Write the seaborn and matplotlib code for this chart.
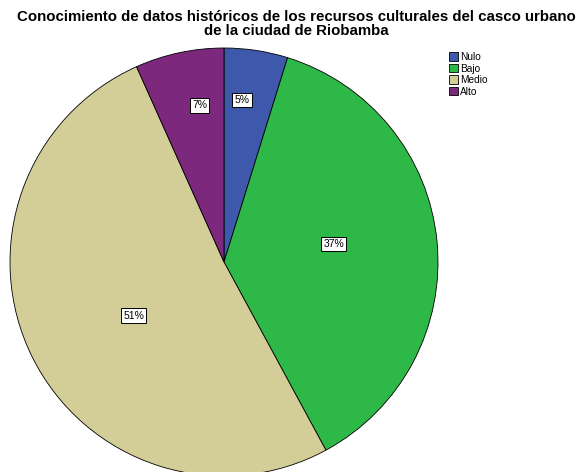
import numpy as np
import matplotlib
matplotlib.use("Agg")
import matplotlib.pyplot as plt
import seaborn as sns
from matplotlib.patches import Patch

sns.set_theme(style="white")
plt.rcParams['font.family'] = ['Liberation Sans', 'DejaVu Sans']
plt.rcParams['text.color'] = 'black'

categories = ["Nulo", "Bajo", "Medio", "Alto"]
values = [4.8, 37.3, 51.2, 6.7]
pct_labels = ["5%", "37%", "51%", "7%"]
colors = ["#3E58AC", "#2EB848", "#D3CE97", "#7C287D"]
label_r = [0.76, 0.52, 0.49, 0.74]
label_dang = [2.3, 3.8, 4.4, -3.3]

W, H = 583, 472
fig = plt.figure(figsize=(W / 100, H / 100), dpi=100)
cx, cy, R = 224, 262, 214
ax = fig.add_axes([(cx - R) / W, (H - cy - R) / H, 2 * R / W, 2 * R / H])
wedges, _ = ax.pie(values, colors=colors, startangle=90, counterclock=False,
                   radius=1.0, wedgeprops=dict(edgecolor="black", linewidth=0.6))
for w, lab, r, da in zip(wedges, pct_labels, label_r, label_dang):
    ang = np.deg2rad((w.theta1 + w.theta2) / 2 + da)
    ax.text(r * np.cos(ang), r * np.sin(ang), lab, ha="center", va="center", fontsize=7.5,
            color="black",
            bbox=dict(boxstyle="square,pad=0.2", facecolor="white", edgecolor="black", linewidth=0.7))
ax.set_xlim(-1, 1)
ax.set_ylim(-1, 1)
ax.set_aspect("equal")
ax.axis("off")

fig.text(0.508, 1 - 24 / H, "Conocimiento de datos históricos de los recursos culturales del casco urbano\nde la ciudad de Riobamba",
         ha="center", va="center", fontsize=10.8, fontweight="bold", linespacing=0.95, color="black")

handles = [Patch(facecolor=c, edgecolor="black", linewidth=0.6) for c in colors]
leg = fig.legend(handles, categories, loc="upper left", bbox_to_anchor=(442 / W, 1 - 45 / H),
                 frameon=False, fontsize=7.3, handlelength=0.9, handleheight=0.9,
                 handletextpad=0.2, labelspacing=0.15, borderpad=0.2)
for t in leg.get_texts():
    t.set_color("black")

fig.savefig("out.png", dpi=100, facecolor="white")
